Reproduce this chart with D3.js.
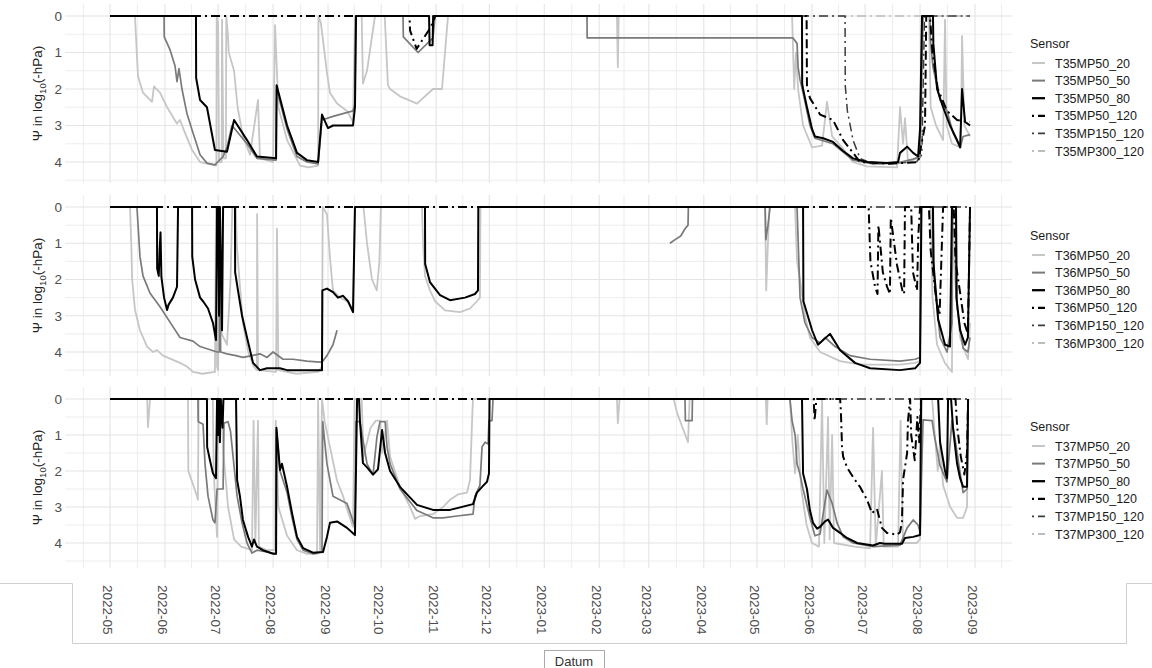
<!DOCTYPE html>
<html>
<head>
<meta charset="utf-8">
<script src="https://cdn.jsdelivr.net/npm/d3@7"></script>
<style>
  body { margin: 0; background: #fff; }
  text { font-family: "Liberation Sans", Arial, sans-serif; }
</style>
</head>
<body>
<script>
const width = 1152;
const height = 668;

// day 0 of every series = 2022-05-01
const startDay = Date.UTC(2022, 4, 1);

const monthLabels = [
  "2022-05", "2022-06", "2022-07", "2022-08", "2022-09", "2022-10", "2022-11", "2022-12",
  "2023-01", "2023-02", "2023-03", "2023-04", "2023-05", "2023-06", "2023-07", "2023-08", "2023-09"
];
const psiTicks = [0, 1, 2, 3, 4];
const plotIds = ["T35", "T36", "T37"];
const sensorSuffix = ["MP50_20", "MP50_50", "MP50_80", "MP50_120", "MP150_120", "MP300_120"];

// [day since start, psi]
const t35_20 = [[0,0],[14.1,0],[15.2,1.1],[15.8,1.65],[18.6,2.1],[23.7,2.35],[24.8,1.93],[28.2,2.1],[32.2,2.5],[37.8,2.95],[39.5,2.85],[42.3,3.2],[46.3,3.67],[50.8,4.0],[58.1,4.08],[60,4.1],[60.2,0],[61,0.2],[61.5,4.0],[63,4.0],[63.2,0.1],[64,3.9],[65.4,3.9],[65.6,0],[66.5,0.5],[67,1.0],[70,1.5],[72,2.5],[75,3.3],[79,3.8],[83.5,2.3],[84.6,3.9],[92,4.0],[93.1,0.25],[95,2.5],[99.9,3.4],[107.2,4.1],[112,4.15],[117.4,4.1],[117.6,0],[119,0.2],[122.4,1.55],[124.1,2.1],[128.1,2.4],[133.7,2.6],[137.1,2.9],[138.2,0],[142,0],[142.7,1.85],[145,1.5],[148,0.5],[149.5,0],[155,0],[156.8,1.9],[158,2.0],[163.6,2.2],[173.2,2.4],[182.2,2.0],[187.3,2.0],[190.7,0],[286,0],[286.5,1.4],[287,0],[384.8,0],[386,2.0],[387,1.0],[388.2,2.0],[391,3.0],[396.1,3.6],[401.7,3.55],[404.5,2.35],[407.4,3.3],[413,3.6],[419,4.0],[427,4.12],[444,4.15],[445.7,2.5],[447.4,3.5],[448.5,2.8],[450.2,4.0],[455.3,3.9],[457,3.85],[458.1,0],[462,0],[463,2.5],[466,3.0],[470,3.4],[471.1,0.1],[472,3.0],[475,3.5],[480,3.6],[480.7,0.55],[482,3.0],[485.2,3.3]];
const t35_50 = [[0,0],[30.5,0],[30.6,0.57],[33.9,0.93],[36.7,1.37],[37.8,1.8],[38.9,1.44],[40.6,2.0],[43.4,2.67],[46.8,3.2],[50.8,3.8],[54.7,4.03],[59.2,4.08],[63.8,3.85],[66,3.6],[68.8,3.0],[77.3,3.5],[82.9,3.9],[93.7,3.95],[94,2.0],[99.9,3.1],[105.5,3.85],[111.1,4.0],[117.4,4.05],[119.6,2.85],[125.8,2.75],[137.1,2.6],[138.2,2.4],[138.6,0],[165.3,0],[165.5,0.57],[173.8,1.0],[182.2,0.6],[183.4,0],[269.1,0],[269.2,0.6],[385.3,0.6],[387.6,0.75],[388.2,1.4],[389.3,1.75],[391,2.1],[394.9,3.0],[397.7,3.35],[407.9,3.5],[419.2,3.95],[430.5,4.05],[444,4.03],[453.1,3.92],[457,3.85],[458.7,0],[462.6,0],[462.8,0.65],[464.3,1.4],[468.3,2.3],[472.2,2.6],[475.6,3.2],[479.6,3.6],[481.3,3.3],[485.2,3.25]];
const t35_80 = [[0,0],[48.5,0],[48.6,1.7],[50.8,2.3],[54.7,2.5],[59.2,3.67],[66,3.72],[70,2.85],[77.3,3.4],[82.9,3.85],[93.7,3.9],[94,1.9],[99.9,3.0],[105.5,3.75],[111.1,3.95],[117.4,4.0],[119.6,2.7],[123,3.07],[125.8,3.0],[137.1,3.0],[138.2,2.5],[138.8,0],[180,0],[180.3,0.8],[182,0.8],[182.3,0],[390.4,0],[390.5,1.85],[391,2.0],[393.2,2.5],[396.1,3.1],[397.7,3.3],[402.3,3.35],[407.9,3.45],[413.6,3.7],[419.2,3.9],[427.1,4.0],[438.4,4.03],[444.6,4.0],[445.7,3.75],[449.7,3.58],[453.1,3.75],[455.9,3.85],[457,3.1],[458.1,0],[464.3,0],[464.5,0.75],[466.6,2.0],[470,2.5],[473.9,3.0],[477.9,3.4],[479.6,3.6],[480.7,2.0],[482.4,2.9],[485.2,3.0]];
const t35_120 = [[0,0],[169,0],[169.3,0.4],[173,0.9],[177,0.6],[181,0.3],[183.5,0],[393,0],[393.2,1.94],[394.9,2.25],[400.6,2.7],[407.9,2.85],[413.6,3.4],[419.2,3.75],[423.1,4.0],[440,4.05],[455.9,4.0],[459.8,3.0],[460.5,0],[462.6,0],[464,1.0],[467,2.0],[472.2,2.6],[477.9,2.85],[485.2,2.9]];
const t35_150 = [[0,0],[414.7,0],[414.8,1.9],[416,2.6],[419.2,3.4],[423.1,3.9],[430,4.05],[455,4.0],[458,3.8],[459.5,0],[485.2,0]];
const t35_300 = [[0,0],[485.2,0]];

const t36_20 = [[0,0],[11.3,0],[12,1.0],[12.5,2.0],[14.1,2.84],[16.9,3.4],[20.9,3.85],[24.3,4.0],[26.5,3.95],[29.9,4.1],[32.2,4.15],[39.5,4.3],[43.4,4.4],[46.8,4.55],[52,4.6],[59.2,4.55],[59.8,0],[60.4,4.4],[61,4.5],[62.1,0],[63,3.5],[66,3.8],[68,2.0],[69,0],[71,0],[71.5,1.0],[73,2.0],[75,3.2],[78,4.0],[81,4.4],[82.9,4.5],[83,0.2],[83.5,4.5],[93.7,4.55],[94.2,0.6],[95,4.5],[105,4.6],[117.4,4.55],[119.6,4.4],[120,0],[122.4,0.2],[124.1,1.4],[125.8,2.3],[129.8,2.5],[133.7,2.6],[137.1,2.8],[138.2,0],[143,0],[145,1.0],[147.8,2.0],[150.5,2.3],[152,1.5],[152.8,0],[176,0],[176.6,1.0],[177.7,1.9],[180.5,2.3],[183.4,2.6],[189,2.85],[197.5,2.9],[203.1,2.8],[207,2.6],[208.7,2.5],[209,0],[369.6,0],[370.2,2.3],[371.2,1.0],[372,0],[386.5,0],[387.6,1.5],[389.3,2.0],[392.1,3.0],[394.9,3.6],[400.6,4.0],[411.9,4.25],[423.1,4.35],[445.7,4.35],[454.2,4.3],[457,4.25],[457.6,0],[463,0],[464,2.5],[466.6,3.8],[471,4.3],[475,4.55],[475.5,0],[476.7,2.0],[479.6,3.6],[482.4,4.0],[484.1,4.2],[485.2,3.2]];
const t36_50 = [[0,0],[15.2,0],[16.9,1.37],[18.6,1.9],[22.6,2.38],[28.2,2.75],[35.5,3.3],[39.5,3.6],[46.8,3.7],[50.8,3.85],[60.4,4.0],[61.8,4.0],[62,0.1],[62.4,4.0],[66,4.05],[71,4.1],[75,4.15],[80.1,4.1],[84.6,4.05],[88.6,4.15],[92,4.0],[97.6,4.2],[103.2,4.2],[111.1,4.25],[118.5,4.28],[119.6,4.28],[122.4,4.1],[125.8,3.8],[128.1,3.4],[128.3,null],[315.9,1.0],[318.8,0.9],[322,0.8],[324.4,0.6],[326.1,0.5],[326.3,0],[369.6,0],[370,0.9],[371.2,0.5],[372.4,0],[387.6,0],[389.3,2.5],[392.1,3.2],[396.1,3.6],[400.6,3.75],[403.4,3.6],[409.1,3.85],[417.5,4.1],[428.8,4.2],[445.7,4.25],[454.2,4.2],[457,4.15],[457.6,0],[464.3,0],[465,2.0],[468.3,3.6],[472.2,4.0],[475,3.2],[475.2,0],[477.3,0],[478,2.8],[481.3,3.9],[484,4.0],[485.2,3.6]];
const t36_80 = [[0,0],[26.5,0],[26.6,1.7],[27.5,1.9],[28,1.2],[28.5,0.7],[29,1.93],[30.5,2.5],[32.2,2.84],[33,2.7],[35.5,2.5],[37.8,2.2],[38.4,0],[46.3,0],[46.4,1.37],[48,2.0],[50.8,2.5],[52.5,2.6],[55.3,2.8],[58.1,3.2],[59.8,3.67],[60.4,0],[61,0],[61.5,3.0],[62,0],[63.2,3.4],[63.8,0],[70.5,0],[70.6,1.8],[72.2,2.3],[74.5,3.0],[77.3,3.6],[80.7,4.3],[84.6,4.5],[88.6,4.45],[95.9,4.45],[99.9,4.5],[119.6,4.5],[119.8,2.3],[122.4,2.25],[125.8,2.35],[128.6,2.5],[131.5,2.45],[134.3,2.6],[137.1,2.9],[138.2,0],[177.7,0],[177.8,1.57],[180.5,2.07],[186.2,2.43],[191.8,2.57],[200.3,2.5],[205.9,2.4],[207.6,2.3],[207.8,0],[391,0],[391.2,2.6],[396.1,3.4],[399.4,3.8],[406.2,3.5],[411.9,3.95],[420.3,4.3],[428.8,4.45],[445.7,4.5],[454.2,4.45],[457,4.3],[457.8,0],[464.3,0],[464.5,1.5],[467.2,3.1],[471.1,3.8],[473.9,3.85],[475,0],[477.3,0],[477.5,2.5],[479.6,3.4],[482.4,3.8],[484,3.6],[485.2,0]];
const t36_120 = [[0,0],[428,0],[429,1.5],[431.6,2.2],[433,2.4],[433.5,0.5],[436,1.8],[438.4,2.2],[440,2.4],[440.5,0.3],[444,1.6],[447,2.3],[448,2.4],[448.5,0],[452,0],[453,1.8],[455.3,2.3],[456,0.8],[457,0],[462,0],[463,1.2],[466,2.5],[468,3.0],[470,0],[476,0],[477,1.5],[480,2.5],[482,3.2],[484,3.5],[485.2,0]];
const t36_150 = [[0,0],[485.2,0]];
const t36_300 = [[0,0],[485.2,0]];

const t37_20 = [[0,0],[21,0],[21.4,0.78],[22.6,0],[44,0],[44.2,2.0],[46.3,2.3],[49.1,2.7],[49.6,2.8],[50,0],[58,0],[58.5,2.0],[60.4,3.83],[61,0],[63,0],[64,1.5],[66.6,3.0],[70,3.9],[74,4.1],[80.1,4.2],[81,0.6],[82,4.0],[83.5,0.6],[84,4.1],[88.6,4.2],[93.1,4.2],[93.5,0.6],[95,3.0],[99.9,3.8],[105.5,4.2],[111.1,4.3],[116.8,4.3],[117.4,0],[118.5,4.2],[119.6,0],[121,0.6],[124.1,1.33],[128.1,2.27],[131.5,2.7],[134,3.1],[137.1,3.55],[138,0],[142,0],[143,1.6],[147,0.8],[150,0.6],[152.3,0.6],[153.5,1.5],[156.3,0.6],[158,1.6],[163.6,2.44],[169.3,3.0],[172.1,3.33],[175,3.25],[182.2,3.2],[187.9,3.0],[191.8,2.8],[196.3,2.65],[201.4,2.6],[203.1,2.25],[204.5,0.3],[204.8,0],[286,0],[286.5,0.67],[287.5,0],[318,0],[320,0.4],[326.1,1.2],[327,0],[370,0],[370.5,0.7],[371,0],[383.6,0],[385,1.2],[386.5,2.07],[388,1.0],[390,2.5],[393,3.5],[396,4.0],[400,4.1],[401.7,0],[403,4.0],[405.1,0.5],[406,3.9],[407.4,1.0],[408.5,4.0],[420,4.1],[428.8,4.15],[430.5,0.8],[432,4.1],[435.5,2.0],[436.5,4.1],[444.6,4.1],[446,0.6],[447.4,4.0],[455,4.0],[457,3.9],[458,0],[463.8,0],[465,0.8],[467,2.0],[468.3,1.2],[470,2.4],[474,3.0],[477.9,3.3],[481.3,3.3],[483.5,3.0],[484.1,0]];
const t37_50 = [[0,0],[49.6,0],[49.8,0.63],[52.5,0.7],[53.6,1.8],[55.3,2.7],[58.1,3.36],[59.2,3.44],[60.4,2.5],[63.8,2.5],[64.3,0.67],[66.6,0.63],[68,0.9],[71.7,2.7],[74.5,3.44],[77.3,4.0],[80.1,4.28],[82.9,4.2],[88.6,4.25],[93.7,4.3],[94,0.86],[95.9,2.0],[99.9,2.6],[102.7,3.3],[105.5,3.9],[108.9,4.2],[114.5,4.3],[119.6,4.25],[120,0.63],[122.4,1.8],[125.8,2.7],[133.7,2.9],[138.2,3.55],[138.8,0.63],[141,0.63],[145,1.8],[148.4,2.1],[150.6,1.05],[152.3,0.63],[155.2,0.63],[156.3,1.33],[158,1.8],[163.6,2.5],[173.2,3.1],[182.2,3.3],[187.9,3.3],[195.8,3.25],[204.8,3.2],[205.9,2.7],[208.7,2.4],[209.9,1.33],[211.6,1.2],[213.3,1.25],[213.8,0.6],[215.5,0.6],[216.1,0],[324.4,0],[324.6,0.6],[328.4,0.6],[328.6,0],[383.6,0],[384.8,0.6],[386.5,1.0],[387.6,1.8],[389.3,2.1],[391,2.5],[394.9,3.3],[397.7,3.8],[400.6,3.75],[402.3,3.2],[404.5,2.53],[407.4,2.9],[410.2,3.44],[413.6,3.83],[419.2,4.0],[430.5,4.1],[445.7,4.06],[449.7,3.58],[453.1,3.36],[455.9,3.5],[457,3.7],[458.7,0.58],[463.8,0.6],[465,1.0],[468.3,1.85],[472.2,2.3],[475,0.6],[477,1.2],[481.3,2.6],[483.5,2.5],[484.1,0]];
const t37_80 = [[0,0],[54.7,0],[54.8,1.33],[56.4,1.7],[58.1,2.07],[59.8,2.2],[60.4,0],[61,1.0],[61.5,0],[62,1.2],[62.5,0],[63.5,0.8],[64,0],[71.1,0],[71.7,2.25],[73.3,2.7],[75,3.36],[77.9,3.83],[80.1,4.1],[81.2,3.9],[82.9,4.1],[86.3,4.2],[92,4.3],[93.7,4.3],[93.9,0.8],[95.9,1.97],[97,1.8],[99.9,2.44],[102.7,3.17],[105.5,3.83],[108.9,4.14],[114.5,4.27],[120.2,4.25],[122.4,3.83],[124.1,3.44],[128.1,3.4],[133.7,3.58],[138.2,3.78],[138.8,1.9],[139.4,0],[140.5,0],[141,0.6],[142.7,1.78],[145,1.9],[148.4,2.1],[151.2,1.95],[153.5,0.86],[155.2,1.5],[158,2.0],[163.6,2.44],[173.2,2.94],[182.2,3.08],[191.8,3.08],[204.8,2.92],[207,2.6],[209.9,2.44],[212.7,2.3],[213.8,2.07],[214.1,0],[390.4,0],[391,2.07],[393.2,2.5],[394.9,3.1],[396.6,3.44],[398.9,3.6],[400.6,3.55],[403.4,3.4],[405.1,3.35],[407.9,3.58],[411.9,3.72],[415.8,3.86],[421.5,4.0],[430.5,4.07],[434.4,4.0],[437,4.02],[446.8,4.02],[448.5,3.86],[453.1,3.83],[457,3.78],[457.6,0],[467.2,0],[468.3,1.2],[471.1,2.0],[472.2,2.2],[472.8,0],[474.5,0],[475.6,0.8],[477.9,1.8],[479.6,2.2],[481.3,2.44],[483.5,2.44],[484.1,0]];
const t37_120 = [[0,0],[397,0],[397.5,0.6],[398.5,0],[411.9,0],[412.3,0.3],[413,1.33],[413.6,1.6],[415.8,1.9],[419.2,2.17],[423.1,2.44],[427.1,2.8],[429.9,3.17],[432.7,3.05],[435.5,3.58],[438.4,3.72],[444,3.77],[445.7,3.7],[446.8,3.4],[447.4,2.25],[449.7,1.5],[450.2,0.6],[451.4,0],[452,1.0],[454,1.7],[455.5,0.5],[456.5,1.2],[457.6,0],[477,0],[478,0.8],[480,1.6],[482,2.1],[483.5,1.5],[484.1,0]];
const t37_150 = [[0,0],[485.2,0]];
const t37_300 = [[0,0],[485.2,0]];

const plotSeries = [
  [t35_20, t35_50, t35_80, t35_120, t35_150, t35_300],
  [t36_20, t36_50, t36_80, t36_120, t36_150, t36_300],
  [t37_20, t37_50, t37_80, t37_120, t37_150, t37_300]
];

// look of each sensor
const sensorColor = ["#c6c6c6", "#7a7a7a", "#000000", "#000000", "#3c3c3c", "#bcbcbc"];
const sensorWidth = [1.8, 1.7, 2.0, 2.0, 1.5, 1.5];
const sensorDash = [null, null, null, "2,4,9,4", "2,4,9,4", "2,4,9,4"];
const drawOrder = [5, 4, 0, 1, 2, 3];

// panel geometry
const left = 65, right = 1012;
const panels = [
  { top: 4, bottom: 183, zero: 16, four: 162, legendY: 43 },
  { top: 195, bottom: 376, zero: 207, four: 352, legendY: 235 },
  { top: 387, bottom: 568, zero: 399, four: 543, legendY: 426 }
];

const toDate = d => new Date(startDay + d * 864e5);

const x = d3.scaleUtc()
  .domain([new Date(Date.UTC(2022, 4, 1)), new Date(Date.UTC(2023, 8, 1))])
  .range([110, 975]);

const svg = d3.select("body")
  .append("svg")
  .attr("width", width)
  .attr("height", height);

const fullDomain = [x.invert(left), x.invert(right)];
const monthStarts = d3.utcMonth.range(d3.utcMonth.ceil(fullDomain[0]), fullDomain[1]);
const monthMids = d3.utcMonth.range(d3.utcMonth.floor(fullDomain[0]), fullDomain[1])
  .map(m => new Date((m.getTime() + d3.utcMonth.offset(m, 1).getTime()) / 2))
  .filter(d => d >= fullDomain[0] && d <= fullDomain[1]);

panels.forEach((p, pi) => {
  const y = d3.scaleLinear().domain([0, 4]).range([p.zero, p.four]);
  const g = svg.append("g");

  // grid
  const yMin = y.invert(p.top), yMax = y.invert(p.bottom);
  const minorY = d3.range(-0.5, 5, 1).filter(v => v > yMin && v < yMax);
  g.selectAll(".hminor").data(minorY).enter().append("line")
    .attr("x1", left).attr("x2", right)
    .attr("y1", d => y(d)).attr("y2", d => y(d))
    .attr("stroke", "#ebebeb").attr("stroke-width", 0.9);
  g.selectAll(".vminor").data(monthMids).enter().append("line")
    .attr("x1", d => x(d)).attr("x2", d => x(d))
    .attr("y1", p.top).attr("y2", p.bottom)
    .attr("stroke", "#ebebeb").attr("stroke-width", 0.9);
  g.selectAll(".hmajor").data(psiTicks).enter().append("line")
    .attr("x1", left).attr("x2", right)
    .attr("y1", d => y(d)).attr("y2", d => y(d))
    .attr("stroke", "#e4e4e4").attr("stroke-width", 1.1);
  g.selectAll(".vmajor").data(monthStarts).enter().append("line")
    .attr("x1", d => x(d)).attr("x2", d => x(d))
    .attr("y1", p.top).attr("y2", p.bottom)
    .attr("stroke", "#e4e4e4").attr("stroke-width", 1.1);

  // y axis labels
  g.selectAll(".ytick").data(psiTicks).enter().append("text")
    .attr("x", 62).attr("y", d => y(d)).attr("dy", "0.36em")
    .attr("text-anchor", "end")
    .attr("font-size", "13.5px").attr("fill", "#4d4d4d")
    .text(d => d);

  const title = g.append("text")
    .attr("transform", `translate(42,${(p.top + p.bottom) / 2}) rotate(-90)`)
    .attr("text-anchor", "middle")
    .attr("font-size", "13.5px").attr("fill", "#222");
  title.append("tspan").text("Ψ in log");
  title.append("tspan").attr("dy", 4).attr("font-size", "9.5px").text("10");
  title.append("tspan").attr("dy", -4).text("(-hPa)");

  // lines
  const clipId = "clip" + pi;
  svg.append("clipPath").attr("id", clipId).append("rect")
    .attr("x", left).attr("y", p.top).attr("width", right - left).attr("height", p.bottom - p.top);

  const line = d3.line()
    .defined(d => d[1] != null)
    .x(d => x(toDate(d[0])))
    .y(d => y(d[1]));

  const lines = g.append("g").attr("clip-path", `url(#${clipId})`);
  drawOrder.forEach(si => {
    lines.append("path")
      .datum(plotSeries[pi][si])
      .attr("d", line)
      .attr("fill", "none")
      .attr("stroke", sensorColor[si])
      .attr("stroke-width", sensorWidth[si])
      .attr("stroke-dasharray", sensorDash[si])
      .attr("stroke-linejoin", "round");
  });

  // legend
  const legend = g.append("g").attr("transform", `translate(1030,${p.legendY})`);
  legend.append("text")
    .attr("x", 0).attr("y", 0).attr("dy", "0.36em")
    .attr("font-size", "12.5px").attr("fill", "#1a1a1a")
    .text("Sensor");
  sensorSuffix.forEach((s, i) => {
    const ly = 20 + i * 17.6;
    legend.append("line")
      .attr("x1", 2).attr("x2", 15).attr("y1", ly).attr("y2", ly)
      .attr("stroke", sensorColor[i])
      .attr("stroke-width", sensorWidth[i] + 0.3)
      .attr("stroke-dasharray", sensorDash[i]);
    legend.append("text")
      .attr("x", 25).attr("y", ly).attr("dy", "0.36em")
      .attr("font-size", "12.5px").attr("fill", "#1a1a1a")
      .text(plotIds[pi] + s);
  });
});

// bottom date axis
svg.append("path")
  .attr("d", "M0,583.5H72.5V643.5H1126.5V583.5H1152")
  .attr("fill", "none").attr("stroke", "#cfcfcf");

const monthDates = monthLabels.map(m => new Date(Date.UTC(+m.slice(0, 4), +m.slice(5) - 1, 1)));
svg.selectAll(".xtick").data(monthDates).enter().append("text")
  .attr("transform", d => `translate(${x(d) - 2},585) rotate(90)`)
  .attr("dy", "0.36em")
  .attr("font-size", "13.5px").attr("fill", "#4d4d4d")
  .text((d, i) => monthLabels[i]);

svg.append("rect")
  .attr("x", 544.5).attr("y", 650.5).attr("width", 60).attr("height", 24)
  .attr("fill", "#fff").attr("stroke", "#aaa");
svg.append("text")
  .attr("x", 574).attr("y", 666)
  .attr("text-anchor", "middle")
  .attr("font-size", "13px").attr("fill", "#333")
  .text("Datum");
</script>
</body>
</html>
